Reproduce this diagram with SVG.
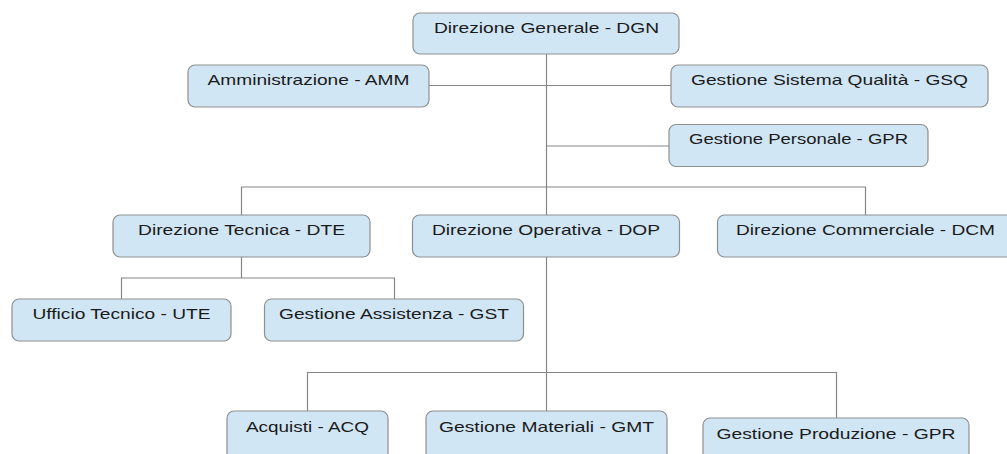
<svg xmlns="http://www.w3.org/2000/svg" width="1007" height="454" viewBox="0 0 1007 454">
<style>
.box{fill:#d1e6f4;stroke:#8f8f8f;stroke-width:1.2}
.lbl{font-family:"Liberation Sans",Arial,sans-serif;font-size:15px;fill:#1a1a1a;text-anchor:middle}
.con{fill:none;stroke:#858585;stroke-width:1.2}
</style>
<rect width="1007" height="454" fill="#ffffff"/>
<g id="connectors">
<path class="con" d="M546.5,54 V411"/>
<path class="con" d="M429,85.5 H671"/>
<path class="con" d="M546.5,146 H669"/>
<path class="con" d="M241.5,215 V187 H865.5 V215"/>
<path class="con" d="M241.5,257 V278 M121.5,299 V278 H394.5 V299"/>
<path class="con" d="M307.5,411 V372.5 H836.5 V418"/>
</g>
<g id="DGN"><rect class="box" x="413" y="13" width="266" height="41" rx="7"/><text class="lbl" x="546.5" y="33" textLength="225" lengthAdjust="spacingAndGlyphs">Direzione Generale - DGN</text></g>
<g id="AMM"><rect class="box" x="188" y="65" width="241" height="42" rx="7"/><text class="lbl" x="308.5" y="85" textLength="202" lengthAdjust="spacingAndGlyphs">Amministrazione - AMM</text></g>
<g id="GSQ"><rect class="box" x="671" y="65" width="317" height="42" rx="7"/><text class="lbl" x="829.5" y="85" textLength="277" lengthAdjust="spacingAndGlyphs">Gestione Sistema Qualità - GSQ</text></g>
<g id="GPR"><rect class="box" x="669" y="124.5" width="259" height="42" rx="7"/><text class="lbl" x="798.5" y="144" textLength="219" lengthAdjust="spacingAndGlyphs">Gestione Personale - GPR</text></g>
<g id="DTE"><rect class="box" x="113" y="215" width="257" height="42" rx="7"/><text class="lbl" x="241.5" y="235" textLength="207" lengthAdjust="spacingAndGlyphs">Direzione Tecnica - DTE</text></g>
<g id="DOP"><rect class="box" x="412.5" y="215" width="267" height="42" rx="7"/><text class="lbl" x="546" y="235" textLength="228" lengthAdjust="spacingAndGlyphs">Direzione Operativa - DOP</text></g>
<g id="DCM"><rect class="box" x="717.5" y="215" width="296" height="42" rx="7"/><text class="lbl" x="865.5" y="235" textLength="259" lengthAdjust="spacingAndGlyphs">Direzione Commerciale - DCM</text></g>
<g id="UTE"><rect class="box" x="12" y="299" width="219" height="42" rx="7"/><text class="lbl" x="121.5" y="319" textLength="178" lengthAdjust="spacingAndGlyphs">Ufficio Tecnico - UTE</text></g>
<g id="GST"><rect class="box" x="264.5" y="299" width="259" height="42" rx="7"/><text class="lbl" x="394" y="319" textLength="230" lengthAdjust="spacingAndGlyphs">Gestione Assistenza - GST</text></g>
<g id="ACQ"><rect class="box" x="227" y="411" width="161" height="50" rx="7"/><text class="lbl" x="307.5" y="432" textLength="123" lengthAdjust="spacingAndGlyphs">Acquisti - ACQ</text></g>
<g id="GMT"><rect class="box" x="426" y="411" width="241" height="50" rx="7"/><text class="lbl" x="546.5" y="432" textLength="215" lengthAdjust="spacingAndGlyphs">Gestione Materiali - GMT</text></g>
<g id="GPRP"><rect class="box" x="703" y="418" width="266" height="50" rx="7"/><text class="lbl" x="836" y="439" textLength="239" lengthAdjust="spacingAndGlyphs">Gestione Produzione - GPR</text></g>
</svg>
